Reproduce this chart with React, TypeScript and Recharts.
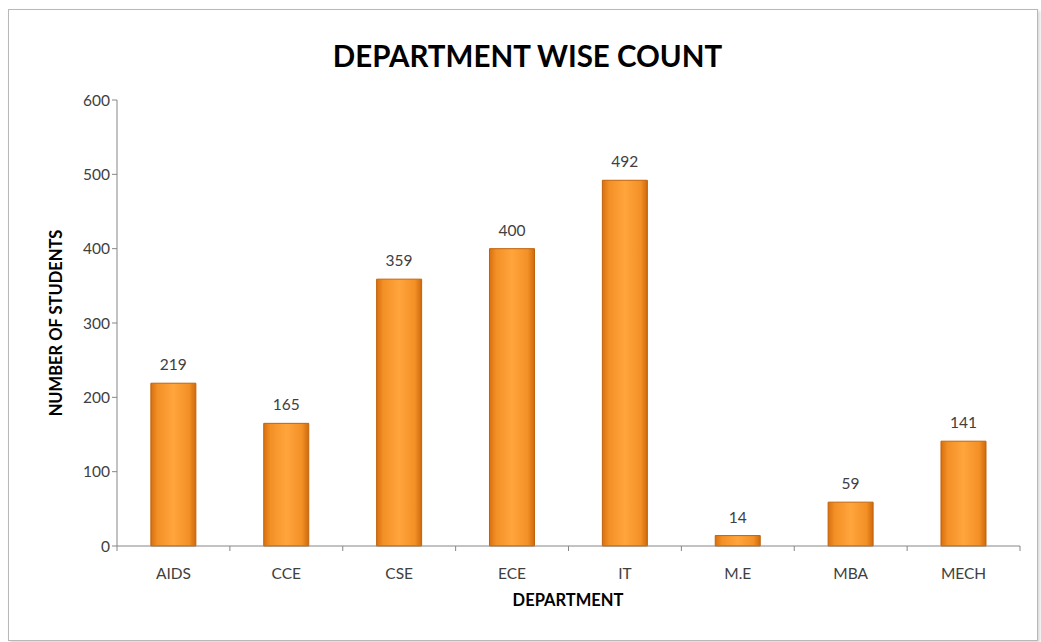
import React from 'react';
import { BarChart, Bar, XAxis, YAxis, LabelList } from 'recharts';

const departments = ['AIDS', 'CCE', 'CSE', 'ECE', 'IT', 'M.E', 'MBA', 'MECH'];
const studentCounts = [219, 165, 359, 400, 492, 14, 59, 141];
const yTicks = [0, 100, 200, 300, 400, 500, 600];

const data = departments.map((dept, i) => ({ dept, count: studentCounts[i] }));

const W = 1041;
const H = 642;
const Y_AXIS_W = 60;
const X_AXIS_H = 30;
const margin = { top: 100, right: 21, left: 117 - Y_AXIS_W, bottom: 96 - X_AXIS_H };
const band = (W - 117 - margin.right) / departments.length;
const font = 'Lato, "Open Sans", sans-serif';

function DeptTick(props: any) {
  const { x, y, payload, index } = props;
  return (
    <g>
      <line x1={x - band / 2} y1={y - 8} x2={x - band / 2} y2={y - 3} stroke="#868686" />
      {index === departments.length - 1 && (
        <line x1={x + band / 2} y1={y - 8} x2={x + band / 2} y2={y - 3} stroke="#868686" />
      )}
      <text x={x} y={y + 25} textAnchor="middle" fontSize={15.5} fill="#404040" fontFamily={font}>
        {payload.value}
      </text>
    </g>
  );
}

export default function App() {
  return (
    <div style={{ position: 'absolute', left: 0, top: 0, width: W, height: H, background: '#fff' }}>
      <div
        style={{
          position: 'absolute', left: 8, top: 9, width: 1028, height: 630,
          border: '1px solid #b8b8b8', boxShadow: '2px 2px 3px rgba(0,0,0,0.15)',
        }}
      />
      <div
        style={{
          position: 'absolute', left: 7, width: W, top: 38, textAlign: 'center',
          fontFamily: font, fontWeight: 700, fontSize: 29.5, color: '#000',
        }}
      >
        DEPARTMENT WISE COUNT
      </div>
      <div style={{ position: 'absolute', left: 0, top: 0 }}>
        <BarChart width={W} height={H} data={data} margin={margin} barCategoryGap="30%">
          <defs>
            <linearGradient id="barFill" x1="0" y1="0" x2="1" y2="0">
              <stop offset="0%" stopColor="#d9700f" />
              <stop offset="15%" stopColor="#f39026" />
              <stop offset="50%" stopColor="#ffa53c" />
              <stop offset="85%" stopColor="#f39026" />
              <stop offset="100%" stopColor="#cf6a0c" />
            </linearGradient>
          </defs>
          <XAxis
            dataKey="dept"
            height={X_AXIS_H}
            stroke="#868686"
            tickLine={false}
            tick={<DeptTick />}
            interval={0}
          />
          <YAxis
            width={Y_AXIS_W}
            domain={[0, 600]}
            ticks={yTicks}
            stroke="#868686"
            tickSize={5}
            tick={{ fontSize: 15.5, fill: '#404040', fontFamily: font }}
            interval={0}
          />
          <Bar dataKey="count" fill="url(#barFill)" stroke="#c0620a" strokeWidth={1} isAnimationActive={false}>
            <LabelList dataKey="count" position="top" offset={13} fontSize={15.5} fill="#404040" fontFamily={font} />
          </Bar>
        </BarChart>
      </div>
      <div
        style={{
          position: 'absolute', left: 0, width: 1136, top: 590, textAlign: 'center',
          fontFamily: font, fontWeight: 700, fontSize: 16.5, color: '#000',
        }}
      >
        DEPARTMENT
      </div>
      <div
        style={{
          position: 'absolute', left: 56, top: 323, width: 0, height: 0,
        }}
      >
        <div
          style={{
            position: 'absolute', left: 0, top: 0, transform: 'translate(-50%, -50%) rotate(-90deg)',
            whiteSpace: 'nowrap', fontFamily: font, fontWeight: 700, fontSize: 16.5, color: '#000',
          }}
        >
          NUMBER OF STUDENTS
        </div>
      </div>
    </div>
  );
}
